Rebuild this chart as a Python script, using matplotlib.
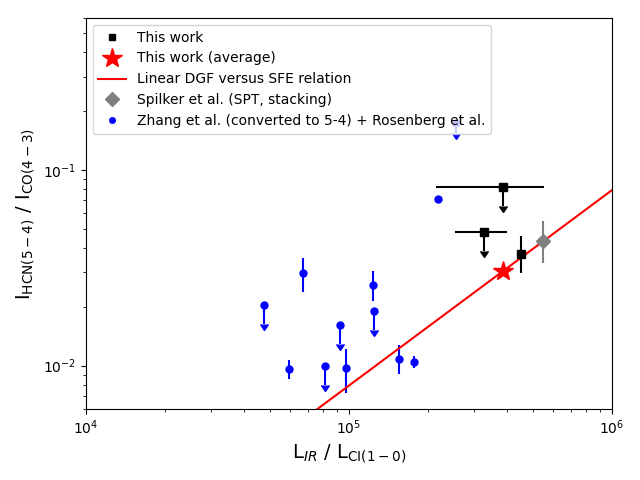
import numpy as np
import matplotlib; matplotlib.use("Agg")
import matplotlib.pyplot as plt

# ---- data ----
# This work (black squares)
work_x    = [386500, 326600, 452000]
work_y    = [0.0822, 0.0483, 0.0371]
work_xlo  = [214100, 253400, None]
work_xhi  = [554600, 397900, None]
work_ylo  = [None, None, 0.0299]
work_yhi  = [None, None, 0.0460]
work_uplim = [True, True, False]

# average
avg_x, avg_y = 386500, 0.0305

# Spilker et al. stacking
spk_x, spk_y = 548000, 0.0435
spk_ylo, spk_yhi = 0.0336, 0.0550

# Zhang et al. + Rosenberg et al. (detections)
zh_x   = [66800, 59300, 97800, 123600, 154600, 176600, 218800]
zh_y   = [0.0297, 0.00962, 0.00973, 0.0258, 0.0108, 0.01045, 0.0709]
zh_ylo = [0.0239, 0.0085, 0.0072, 0.0215, 0.00903, 0.00969, 0.0709]
zh_yhi = [0.0354, 0.01074, 0.01222, 0.0305, 0.01277, 0.01125, 0.0709]
# Zhang et al. upper limits (arrow length as fraction of value)
zhu_x = [47600, 81300, 92700, 124800, 255900]
zhu_y = [0.0204, 0.00997, 0.01615, 0.0190, 0.175]
zhu_frac = [0.2, 0.2, 0.2, 0.2, 0.12]

xline = np.array([1e4, 1e6])

fig, ax = plt.subplots(figsize=(6.4, 4.8), dpi=100)

# blue
ax.errorbar(zh_x, zh_y,
            yerr=[np.array(zh_y) - np.array(zh_ylo), np.array(zh_yhi) - np.array(zh_y)],
            fmt="o", color="blue", ms=5, lw=1.5)
ax.errorbar(zhu_x, zhu_y, yerr=np.array(zhu_frac) * np.array(zhu_y), uplims=True,
            fmt="o", color="blue", ms=5, lw=1.5)

# red line through the average
hline, = ax.plot(xline, avg_y / avg_x * xline, color="red", lw=1.5,
                 label="Linear DGF versus SFE relation")

# black
for x, y, xl, xh, yl, yh, ul in zip(work_x, work_y, work_xlo, work_xhi,
                                    work_ylo, work_yhi, work_uplim):
    xerr = None if xl is None else [[x - xl], [xh - x]]
    if ul:
        ax.errorbar([x], [y], xerr=xerr, yerr=[0.2 * y], uplims=True,
                    fmt="s", color="black", ms=6, lw=1.5)
    else:
        ax.errorbar([x], [y], xerr=xerr, yerr=[[y - yl], [yh - y]],
                    fmt="s", color="black", ms=6, lw=1.5)

ax.errorbar([spk_x], [spk_y], yerr=[[spk_y - spk_ylo], [spk_yhi - spk_y]],
            fmt="D", color="gray", ms=7, lw=1.5)
ax.plot([avg_x], [avg_y], "*", color="red", ms=15)

# legend handles
h1, = ax.plot([], [], "s", color="black", ms=5, label="This work")
h2, = ax.plot([], [], "*", color="red", ms=15, label="This work (average)")
h4, = ax.plot([], [], "D", color="gray", ms=7, label="Spilker et al. (SPT, stacking)")
h5, = ax.plot([], [], "o", color="blue", ms=4,
              label="Zhang et al. (converted to 5-4) + Rosenberg et al.")
ax.legend(handles=[h1, h2, hline, h4, h5], loc="upper left", fontsize=10)

ax.set_xscale("log")
ax.set_yscale("log")
ax.set_xlim(1e4, 1e6)
ax.set_ylim(0.006, 0.6)
ax.set_xlabel(r"L$_{IR}$ / L$_{\rm CI(1-0)}$", fontsize=14)
ax.set_ylabel(r"I$_{\rm HCN(5-4)}$ / I$_{\rm CO(4-3)}$", fontsize=14)

plt.subplots_adjust(left=0.134, right=0.956, top=0.9625, bottom=0.148)
plt.savefig("out.png")
